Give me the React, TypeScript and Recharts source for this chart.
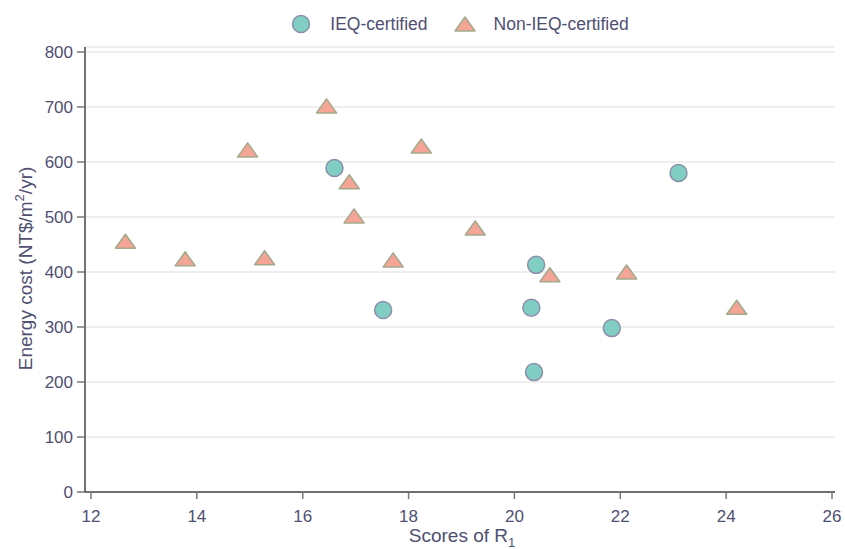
import React from "react";
import {
  ScatterChart,
  Scatter,
  XAxis,
  YAxis,
  CartesianGrid,
  Legend,
} from "recharts";

const xTicks = [12, 14, 16, 18, 20, 22, 24, 26];
const yTicks = [0, 100, 200, 300, 400, 500, 600, 700, 800];

const ieqScores = [16.6, 17.52, 20.32, 20.41, 20.37, 21.84, 23.1];
const ieqCosts = [589, 331, 335, 413, 218, 298, 580];

const nonIeqScores = [
  12.65, 13.78, 14.96, 15.28, 16.45, 16.88, 16.97, 17.71, 18.24, 19.26, 20.67,
  22.12, 24.2,
];
const nonIeqCosts = [
  456, 424, 622, 426, 702, 564, 502, 422, 629, 480, 395, 400, 336,
];

const ieqData = ieqScores.map((x, i) => ({ x, y: ieqCosts[i] }));
const nonIeqData = nonIeqScores.map((x, i) => ({ x, y: nonIeqCosts[i] }));

const TEXT = "#4f4f72";
const FONT = "'Liberation Sans', Arial, sans-serif";
const CIRCLE_FILL = "#80cdc4";
const CIRCLE_STROKE = "#8a90aa";
const TRI_FILL = "#f4a595";
const TRI_STROKE = "#a3a98c";

// eslint-disable-next-line @typescript-eslint/no-explicit-any
const CircleShape = (props: any) => (
  <circle
    cx={props.cx}
    cy={props.cy}
    r={8.5}
    fill={CIRCLE_FILL}
    stroke={CIRCLE_STROKE}
    strokeWidth={1.5}
  />
);

// eslint-disable-next-line @typescript-eslint/no-explicit-any
const TriangleShape = (props: any) => {
  const { cx, cy } = props;
  return (
    <polygon
      points={`${cx - 10},${cy + 7} ${cx + 10},${cy + 7} ${cx},${cy - 7}`}
      fill={TRI_FILL}
      stroke={TRI_STROKE}
      strokeWidth={1.5}
      strokeLinejoin="round"
    />
  );
};

const LegendContent = () => (
  <div
    style={{
      height: 37,
      display: "flex",
      justifyContent: "center",
      alignItems: "flex-start",
      fontFamily: FONT,
      fontSize: 17.5,
      color: TEXT,
      paddingTop: 2,
      boxSizing: "border-box",
    }}
  >
    <div style={{ display: "flex", alignItems: "center", height: 24 }}>
      <svg width={20} height={20} style={{ marginRight: 19 }}>
        <circle cx={10} cy={10} r={8.5} fill={CIRCLE_FILL} stroke={CIRCLE_STROKE} strokeWidth={1.5} />
      </svg>
      <span>IEQ-certified</span>
    </div>
    <div style={{ display: "flex", alignItems: "center", height: 24, marginLeft: 26 }}>
      <svg width={22} height={20} style={{ marginRight: 18 }}>
        <polygon points="1,17 21,17 11,3" fill={TRI_FILL} stroke={TRI_STROKE} strokeWidth={1.5} strokeLinejoin="round" />
      </svg>
      <span>Non-IEQ-certified</span>
    </div>
  </div>
);

// eslint-disable-next-line @typescript-eslint/no-explicit-any
const XLabel = ({ viewBox }: any) => (
  <text
    x={viewBox.x + viewBox.width / 2 + 2}
    y={viewBox.y + 50}
    textAnchor="middle"
    fill={TEXT}
    fontFamily={FONT}
    fontSize={19}
  >
    Scores of R
    <tspan fontSize={13} dy={5}>1</tspan>
  </text>
);

// eslint-disable-next-line @typescript-eslint/no-explicit-any
const YLabel = ({ viewBox }: any) => {
  const cx = 32;
  const cy = viewBox.y + viewBox.height / 2 - 1;
  return (
    <text
      x={cx}
      y={cy}
      transform={`rotate(-90, ${cx}, ${cy})`}
      textAnchor="middle"
      fill={TEXT}
      fontFamily={FONT}
      fontSize={19}
    >
      Energy cost (NT$/m
      <tspan fontSize={13} dy={-8}>2</tspan>
      <tspan dy={8}>/yr)</tspan>
    </text>
  );
};

export default function App() {
  return (
    <div style={{ position: "absolute", left: 0, top: 0, background: "#fff" }}>
      <ScatterChart
        width={845}
        height={549}
        margin={{ top: 10, right: 10, left: 0, bottom: 0 }}
      >
        <CartesianGrid horizontal vertical={false} stroke="#e8e8e8" strokeWidth={1.5} />
        <Legend
          verticalAlign="top"
          content={<LegendContent />}
          wrapperStyle={{ left: 85, width: 750 }}
        />
        <XAxis
          type="number"
          dataKey="x"
          domain={[12, 26]}
          ticks={xTicks}
          interval={0}
          height={57}
          padding={{ left: 6, right: 3 }}
          stroke="#444"
          strokeWidth={1.5}
          tickSize={7}
          tickMargin={11}
          tick={{ fill: TEXT, fontSize: 17, fontFamily: FONT }}
          tickLine={{ stroke: "#777", strokeWidth: 1.5 }}
          label={<XLabel />}
        />
        <YAxis
          type="number"
          dataKey="y"
          domain={[0, 800]}
          ticks={yTicks}
          interval={0}
          width={85}
          padding={{ top: 5, bottom: 0 }}
          stroke="#444"
          strokeWidth={1.5}
          tickSize={8}
          tickMargin={4}
          tick={{ fill: TEXT, fontSize: 17, fontFamily: FONT }}
          tickLine={{ stroke: "#777", strokeWidth: 1.5 }}
          label={<YLabel />}
        />
        <Scatter
          name="IEQ-certified"
          data={ieqData}
          shape={CircleShape}
          isAnimationActive={false}
        />
        <Scatter
          name="Non-IEQ-certified"
          data={nonIeqData}
          shape={TriangleShape}
          isAnimationActive={false}
        />
      </ScatterChart>
    </div>
  );
}
